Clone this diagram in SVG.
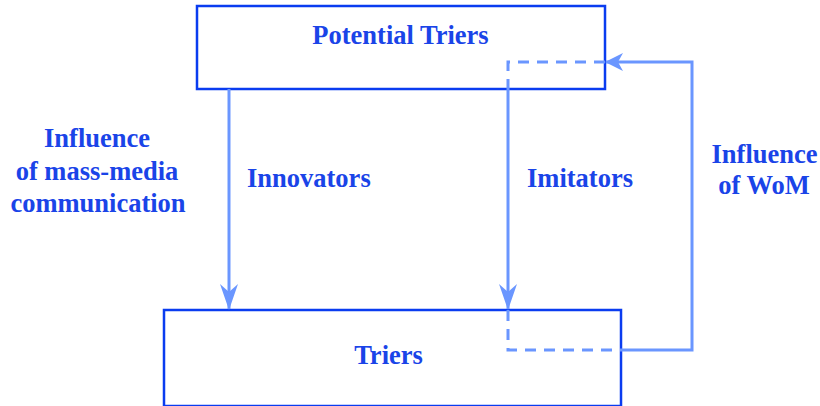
<svg xmlns="http://www.w3.org/2000/svg" width="820" height="406" viewBox="0 0 820 406">
  <style>
    .box { fill: #ffffff; stroke: #0a3cf0; stroke-width: 2.5; }
    .lbl { font-family: "Liberation Serif", "Times New Roman", serif; font-weight: bold; font-size: 26.5px; fill: #1a44e8; }
    .mid { text-anchor: middle; }
    .flow { fill: none; stroke: #6a96ff; stroke-width: 3; }
    .dash { stroke-dasharray: 11 8; }
  </style>
  <defs>
    <!-- long head for the downward flows -->
    <marker id="head-long" viewBox="0 0 26 18" refX="25" refY="9" markerWidth="26" markerHeight="18" markerUnits="userSpaceOnUse" orient="auto">
      <path d="M0,0 L26,9 L0,18 L8,9 Z" fill="#6a96ff"/>
    </marker>
    <!-- short head for the feedback loop -->
    <marker id="head" viewBox="0 0 18 18" refX="17" refY="9" markerWidth="18" markerHeight="18" markerUnits="userSpaceOnUse" orient="auto">
      <path d="M0,0 L18,9 L0,18 L5,9 Z" fill="#6a96ff"/>
    </marker>
  </defs>

  <g id="potential-triers">
    <rect class="box" x="197" y="6" width="408" height="83"/>
    <text class="lbl mid" x="400.5" y="44">Potential Triers</text>
  </g>

  <g id="triers">
    <rect class="box" x="164" y="310" width="457" height="96"/>
    <text class="lbl mid" x="388.5" y="364">Triers</text>
  </g>

  <g id="connectors">
    <!-- innovators -->
    <line class="flow" x1="229" y1="89" x2="229" y2="309" marker-end="url(#head-long)"/>
    <!-- imitators -->
    <path class="flow dash" d="M605,62 H508 V89"/>
    <line class="flow" x1="508" y1="89" x2="508" y2="309" marker-end="url(#head-long)"/>
    <!-- word of mouth loop -->
    <path class="flow dash" d="M508,310 V350 H621"/>
    <path class="flow" d="M621,350 H692 V62 H606" marker-end="url(#head)"/>
  </g>

  <g id="labels">
    <text class="lbl mid" x="97" y="147">Influence</text>
    <text class="lbl mid" x="97" y="180">of mass-media</text>
    <text class="lbl mid" x="98" y="212">communication</text>
    <text class="lbl" x="247" y="187">Innovators</text>
    <text class="lbl" x="527" y="187">Imitators</text>
    <text class="lbl mid" x="764.5" y="163">Influence</text>
    <text class="lbl mid" x="764" y="194">of WoM</text>
  </g>
</svg>
